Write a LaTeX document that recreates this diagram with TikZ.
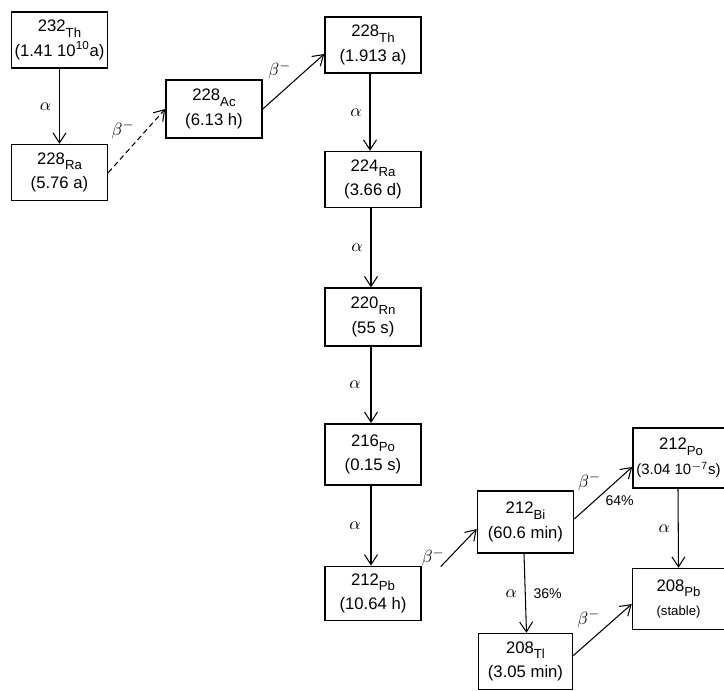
\documentclass[tikz,border=0pt]{standalone}
\usepackage{fontspec}
\setmainfont{Liberation Sans}
\usetikzlibrary{positioning,arrows.meta}
\newcommand{\iso}[2]{#1\raisebox{-0.6ex}{\fontsize{7.5}{8}\selectfont #2}}

\begin{document}
\begin{tikzpicture}[x=0.2mm, y=-0.2mm,
  nuc/.style={draw, line width=0.9pt, align=center, minimum width=19.2mm,
              minimum height=11.2mm, inner sep=1pt, font=\fontsize{9.5}{14}\selectfont},
  arr/.style={-{Straight Barb[length=2mm,width=2.6mm]}, line width=0.6pt},
  lab/.style={font=\fontsize{10}{11}\selectfont, inner sep=1pt}]
\useasboundingbox (0,0) rectangle (724,691);
% thorium series
\node[nuc] (th232) at (59.5,40) {\iso{232}{Th}\\(1.41 10\textsuperscript{10}a)};
\node[nuc, below=15mm of th232] (ra228) {\iso{228}{Ra}\\(5.76 a)};
\node[nuc, minimum height=11.6mm] (ac228) at (214,109) {\iso{228}{Ac}\\(6.13 h)};
\node[nuc] (th228) at (373,45) {\iso{228}{Th}\\(1.913 a)};
\node[nuc, below=15.4mm of th228] (ra224) {\iso{224}{Ra}\\(3.66 d)};
\node[nuc, below=15.8mm of ra224, minimum height=11.6mm] (rn220) {\iso{220}{Rn}\\(55 s)};
\node[nuc, below=15.2mm of rn220, minimum height=12.2mm] (po216) {\iso{216}{Po}\\(0.15 s)};
\node[nuc, below=16mm of po216, minimum height=10.8mm] (pb212) {\iso{212}{Pb}\\(10.64 h)};
\node[nuc, minimum height=12.4mm] (bi212) at (525.5,522) {\iso{212}{Bi}\\(60.6 min)};
\node[nuc, below=15.8mm of bi212, minimum width=18.8mm] (tl208) {\iso{208}{Tl}\\(3.05 min)};
\node[nuc, minimum height=12mm] (po212) at (681,458)
  {\iso{212}{Po}\\{\fontsize{8.5}{12}\selectfont(3.04 10\textsuperscript{$-$7}s)\hspace*{1mm}}};
\node[nuc, below=15.8mm of po212, minimum height=12.2mm, minimum width=18.4mm,
      xshift=-0.5mm] (pb208) {\iso{208}{Pb}\\{\fontsize{7.5}{9}\selectfont(stable)}};

\draw[arr] (th232) -- node[lab, left=1.2mm] {$\alpha$} (ra228);
\draw[arr, dash pattern=on 3pt off 2pt] (ra228.east) -- node[lab, above left] {$\beta^-$} (ac228.west);
\draw[arr] (ac228.east) -- node[lab, above left] {$\beta^-$} ([yshift=-1.8mm]th228.west);
\draw[arr] ([xshift=-0.6mm]th228.south) -- node[lab, left=1.2mm] {$\alpha$} ([xshift=-0.6mm]ra224.north);
\draw[arr] ([xshift=-0.4mm]ra224.south) -- node[lab, left=1.2mm] {$\alpha$} ([xshift=-0.4mm]rn220.north);
\draw[arr] ([xshift=-0.4mm]rn220.south) -- node[lab, left=1.6mm] {$\alpha$} ([xshift=-0.4mm]po216.north);
\draw[arr] ([xshift=-0.4mm]po216.south) -- node[lab, left=1.6mm] {$\alpha$} ([xshift=-0.4mm]pb212.north);
\draw[arr] ([xshift=3.8mm,yshift=-0.2mm]pb212.north east) -- node[lab, pos=0.25, left=0.6mm] {$\beta^-$} ([yshift=-1.4mm]bi212.west);
\draw[arr] ([yshift=0.6mm]bi212.east) -- node[lab, above left] {$\beta^-$}
  node[lab, below right, font=\fontsize{8}{9}\selectfont] {64\%} ([yshift=-1.8mm]po212.west);
\draw[arr] ([xshift=-0.3mm]bi212.south) -- node[lab, left=1.2mm] {$\alpha$}
  node[lab, right=1.2mm, font=\fontsize{8}{9}\selectfont] {36\%} ([xshift=0.2mm]tl208.north);
\draw[arr] ([xshift=-0.6mm]po212.south) -- node[lab, left=1.2mm] {$\alpha$} (pb208.north);
\draw[arr] ([yshift=1.2mm]tl208.east) -- node[lab, above left] {$\beta^-$} ([yshift=-1mm]pb208.west);
\end{tikzpicture}
\end{document}
